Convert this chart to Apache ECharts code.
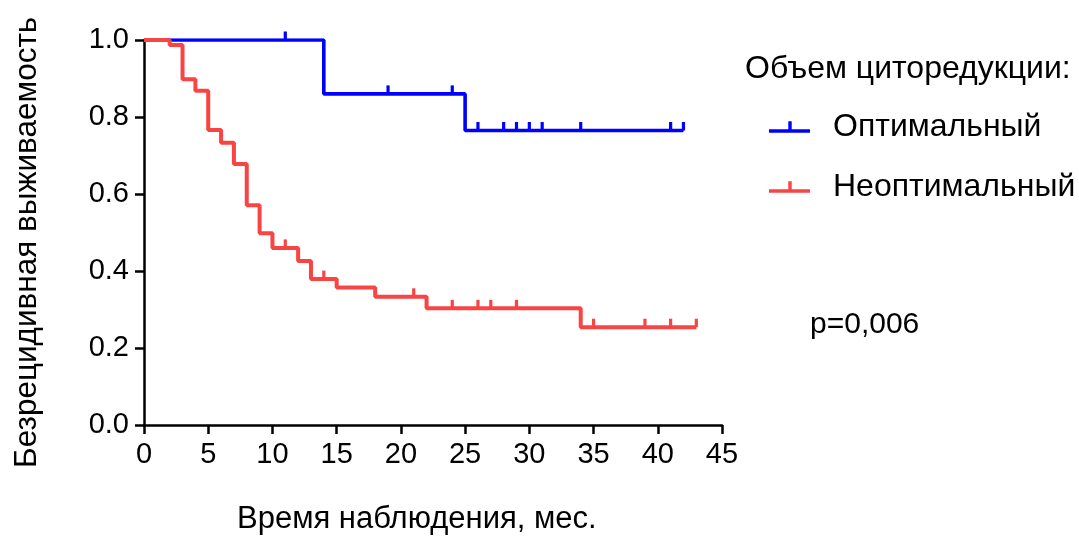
<!DOCTYPE html>
<html>
<head>
<meta charset="utf-8">
<script src="https://cdn.jsdelivr.net/npm/echarts@6/dist/echarts.min.js"></script>
<style>
  html, body { margin: 0; padding: 0; background: #fff; }
  #chart { width: 1079px; height: 536px; }
</style>
</head>
<body>
<div id="chart"></div>
<script>
// ---- Data ----
const seriesNames = ['Оптимальный', 'Неоптимальный'];

// Optimal cytoreduction: step times and survival values
const optTimes = [0, 14, 25, 42];
const optSurv  = [1.0, 0.86, 0.765, 0.765];
const optCensor = [11, 19, 24, 26, 28, 29, 30, 31, 34, 41, 42];

// Non-optimal cytoreduction
const subTimes = [0, 2, 3, 4, 5, 6, 7, 8, 9, 10, 12, 13, 15, 18, 22, 34, 43];
const subSurv  = [1.0, 0.987, 0.898, 0.868, 0.766, 0.733, 0.678, 0.571, 0.498, 0.46, 0.426, 0.379, 0.357, 0.333, 0.303, 0.254, 0.254];
const subCensor = [11, 14, 21, 24, 26, 27, 29, 35, 39, 41, 43];

const xTicks = [0, 5, 10, 15, 20, 25, 30, 35, 40, 45];
const yTicks = [0.0, 0.2, 0.4, 0.6, 0.8, 1.0];

const legendTitle = 'Объем циторедукции:';
const pText = 'p=0,006';
const xTitle = 'Время наблюдения, мес.';
const yTitle = 'Безрецидивная выживаемость';

// ---- Helpers ----
function pairs(t, s) { return t.map((v, i) => [v, s[i]]); }
function survAt(times, surv, t) {
  let v = surv[0];
  for (let i = 0; i < times.length; i++) { if (times[i] <= t) v = surv[i]; }
  return v;
}
function censorData(c, times, surv) { return c.map(t => [t, survAt(times, surv, t)]); }

const BLUE = '#0000ff';
const RED = '#f94444';
const FONT = "'Liberation Sans', Arial, sans-serif";

function censorSeries(name, data, color) {
  return {
    name: name,
    type: 'custom',
    data: data,
    z: 4,
    renderItem: function (params, api) {
      const p = api.coord([api.value(0), api.value(1)]);
      return {
        type: 'line',
        shape: { x1: p[0], y1: p[1], x2: p[0], y2: p[1] - 8.5 },
        style: { stroke: color, lineWidth: 3.2 }
      };
    }
  };
}

const iconPath = 'path://M0,8 L41,8 L41,11.5 L0,11.5 Z M19.3,0 L22.7,0 L22.7,8 L19.3,8 Z';

const chart = echarts.init(document.getElementById('chart'), null, { renderer: 'canvas' });
chart.setOption({
  animation: false,
  backgroundColor: '#fff',
  textStyle: { fontFamily: FONT },
  grid: { left: 144, right: 357, top: 40, bottom: 111, containLabel: false },
  xAxis: {
    type: 'value',
    min: xTicks[0], max: xTicks[xTicks.length - 1], interval: 5,
    axisLine: { onZero: false, lineStyle: { color: '#000', width: 2.5 } },
    axisTick: { show: true, length: 9, lineStyle: { color: '#000', width: 2.5 } },
    axisLabel: { color: '#000', fontSize: 29, fontFamily: FONT, margin: 15 },
    splitLine: { show: false }
  },
  yAxis: {
    type: 'value',
    min: 0, max: 1, interval: 0.2,
    axisLine: { show: true, lineStyle: { color: '#000', width: 2.5 } },
    axisTick: { show: true, length: 9, lineStyle: { color: '#000', width: 2.5 } },
    axisLabel: { color: '#000', fontSize: 29, fontFamily: FONT, margin: 15,
      formatter: v => v.toFixed(1) },
    splitLine: { show: false }
  },
  legend: {
    data: seriesNames,
    orient: 'vertical',
    left: 769,
    top: 111,
    padding: 0,
    itemWidth: 41,
    itemHeight: 11.5,
    itemGap: 28,
    icon: iconPath,
    textStyle: { color: '#000', fontSize: 32, fontFamily: FONT, lineHeight: 32, padding: [0, 0, 0, 18] },
    selectedMode: false
  },
  graphic: [
    { type: 'text', left: 745, top: 53, style: { text: legendTitle, fill: '#000', font: '32px ' + FONT } },
    { type: 'text', left: 810, top: 310, style: { text: pText, fill: '#000', font: '30px ' + FONT } },
    { type: 'text', left: 237, top: 504, style: { text: xTitle, fill: '#000', font: '31px ' + FONT } },
    { type: 'text', x: 11, y: 468, rotation: Math.PI / 2,
      style: { text: yTitle, fill: '#000', font: '31.5px ' + FONT, textAlign: 'left', textVerticalAlign: 'top' } }
  ],
  series: [
    {
      name: seriesNames[0], type: 'line', step: 'end', data: pairs(optTimes, optSurv),
      showSymbol: false, symbol: 'none', color: BLUE,
      lineStyle: { color: BLUE, width: 3.6 }, z: 2
    },
    {
      name: seriesNames[1], type: 'line', step: 'end', data: pairs(subTimes, subSurv),
      showSymbol: false, symbol: 'none', color: RED,
      lineStyle: { color: RED, width: 4 }, z: 3
    },
    censorSeries('c1', censorData(optCensor, optTimes, optSurv), BLUE),
    censorSeries('c2', censorData(subCensor, subTimes, subSurv), RED)
  ]
});
</script>
</body>
</html>
